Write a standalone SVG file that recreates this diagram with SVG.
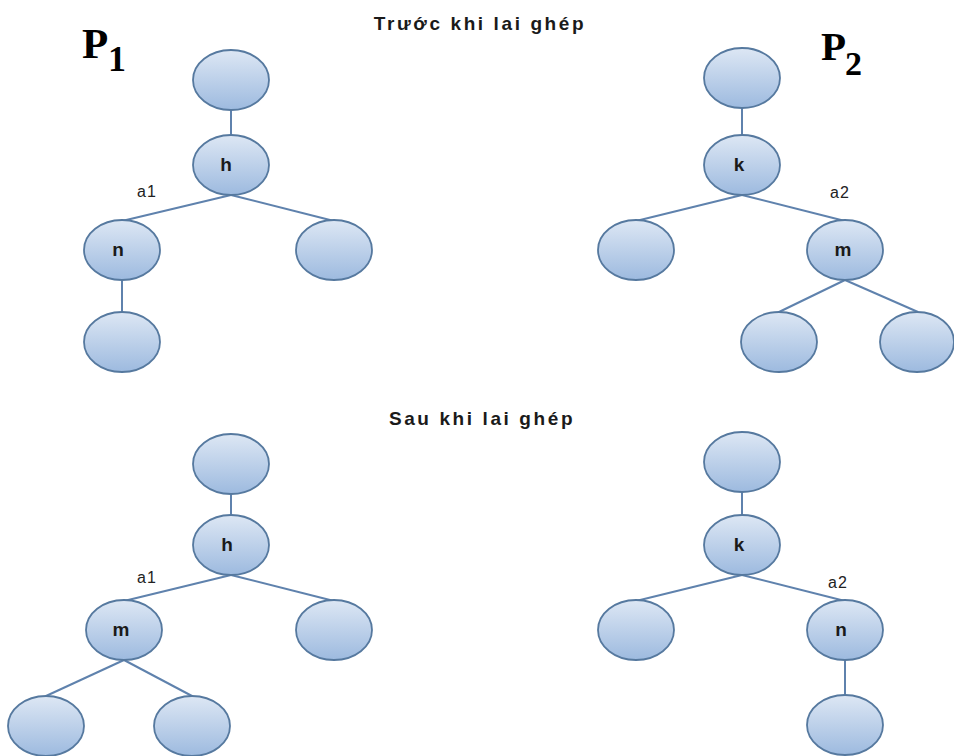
<svg xmlns="http://www.w3.org/2000/svg" width="954" height="756" viewBox="0 0 954 756">
  <defs>
    <linearGradient id="nodeFill" x1="0" y1="0" x2="0" y2="1">
      <stop offset="0" stop-color="#dde7f4"/>
      <stop offset="1" stop-color="#9dbadf"/>
    </linearGradient>
  </defs>
  <style>
    .node ellipse { fill: url(#nodeFill); stroke: #56799f; stroke-width: 1.8; }
    .node text { font-family: "Liberation Sans", Arial, sans-serif; font-weight: bold; font-size: 19px; fill: #1a1a1a; text-anchor: middle; }
    .edges line { stroke: #5f82ad; stroke-width: 2; }
    .title { font-family: "Liberation Sans", Arial, sans-serif; font-weight: bold; font-size: 19px; letter-spacing: 2.6px; fill: #1a1a1a; text-anchor: middle; }
    .cut { font-family: "Liberation Sans", Arial, sans-serif; font-size: 16px; letter-spacing: 1px; fill: #222; }
    .parent { font-family: "Liberation Serif", "Times New Roman", serif; font-weight: bold; fill: #000; }
  </style>
  <rect width="954" height="756" fill="#ffffff"/>

  <!-- headings -->
  <text class="title" x="480" y="30">Trước khi lai ghép</text>
  <text class="title" x="482" y="425">Sau khi lai ghép</text>

  <!-- parent labels, drawn as base letter plus lowered index -->
  <text class="parent" x="82" y="58" font-size="43">P</text>
  <text class="parent" x="108" y="71" font-size="36">1</text>
  <text class="parent" x="821" y="60" font-size="41">P</text>
  <text class="parent" x="845" y="75" font-size="34">2</text>

  <!-- crossover point labels -->
  <text class="cut" x="137" y="197">a1</text>
  <text class="cut" x="830" y="198">a2</text>
  <text class="cut" x="137" y="583">a1</text>
  <text class="cut" x="828" y="588">a2</text>

  <!-- connectors -->
  <g class="edges">
    <!-- P1 before -->
    <line x1="231" y1="110" x2="231" y2="135"/>
    <line x1="231" y1="195" x2="122" y2="221"/>
    <line x1="231" y1="195" x2="334" y2="221"/>
    <line x1="122" y1="280" x2="122" y2="312"/>
    <!-- P2 before -->
    <line x1="742" y1="108" x2="742" y2="135"/>
    <line x1="742" y1="195" x2="636" y2="221"/>
    <line x1="742" y1="195" x2="845" y2="221"/>
    <line x1="845" y1="280" x2="779" y2="312"/>
    <line x1="845" y1="280" x2="918" y2="312"/>
    <!-- P1 after -->
    <line x1="231" y1="494" x2="231" y2="515"/>
    <line x1="231" y1="575" x2="124" y2="601"/>
    <line x1="231" y1="575" x2="334" y2="601"/>
    <line x1="124" y1="660" x2="46" y2="696"/>
    <line x1="124" y1="660" x2="192" y2="696"/>
    <!-- P2 after -->
    <line x1="742" y1="492" x2="742" y2="515"/>
    <line x1="742" y1="575" x2="636" y2="601"/>
    <line x1="742" y1="575" x2="845" y2="601"/>
    <line x1="845" y1="660" x2="845" y2="695"/>
  </g>

  <!-- P1 before crossover -->
  <g id="p1-root" class="node"><ellipse cx="231" cy="80" rx="38" ry="30"/></g>
  <g id="p1-h" class="node"><ellipse cx="231" cy="165" rx="38" ry="30"/><text x="226" y="171">h</text></g>
  <g id="p1-n" class="node"><ellipse cx="122" cy="250" rx="38" ry="30"/><text x="118" y="256">n</text></g>
  <g id="p1-right" class="node"><ellipse cx="334" cy="250" rx="38" ry="30"/></g>
  <g id="p1-n-child" class="node"><ellipse cx="122" cy="342" rx="38" ry="30"/></g>

  <!-- P2 before crossover -->
  <g id="p2-root" class="node"><ellipse cx="742" cy="78" rx="38" ry="30"/></g>
  <g id="p2-k" class="node"><ellipse cx="742" cy="165" rx="38" ry="30"/><text x="739" y="171">k</text></g>
  <g id="p2-left" class="node"><ellipse cx="636" cy="250" rx="38" ry="30"/></g>
  <g id="p2-m" class="node"><ellipse cx="845" cy="250" rx="38" ry="30"/><text x="843" y="256">m</text></g>
  <g id="p2-m-left" class="node"><ellipse cx="779" cy="342" rx="38" ry="30"/></g>
  <g id="p2-m-right" class="node"><ellipse cx="917" cy="342" rx="37" ry="30"/></g>

  <!-- P1 after crossover -->
  <g id="c1-root" class="node"><ellipse cx="231" cy="464" rx="38" ry="30"/></g>
  <g id="c1-h" class="node"><ellipse cx="231" cy="545" rx="38" ry="30"/><text x="227" y="551">h</text></g>
  <g id="c1-m" class="node"><ellipse cx="124" cy="630" rx="38" ry="30"/><text x="121" y="636">m</text></g>
  <g id="c1-right" class="node"><ellipse cx="334" cy="630" rx="38" ry="30"/></g>
  <g id="c1-m-left" class="node"><ellipse cx="46" cy="726" rx="38" ry="30"/></g>
  <g id="c1-m-right" class="node"><ellipse cx="192" cy="726" rx="38" ry="30"/></g>

  <!-- P2 after crossover -->
  <g id="c2-root" class="node"><ellipse cx="742" cy="462" rx="38" ry="30"/></g>
  <g id="c2-k" class="node"><ellipse cx="742" cy="545" rx="38" ry="30"/><text x="739" y="551">k</text></g>
  <g id="c2-left" class="node"><ellipse cx="636" cy="630" rx="38" ry="30"/></g>
  <g id="c2-n" class="node"><ellipse cx="845" cy="630" rx="38" ry="30"/><text x="841" y="636">n</text></g>
  <g id="c2-n-child" class="node"><ellipse cx="845" cy="725" rx="38" ry="30"/></g>
</svg>
